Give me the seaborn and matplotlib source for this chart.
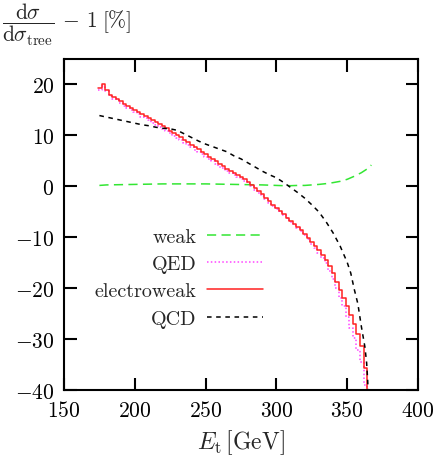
import numpy as np
import pandas as pd
import seaborn as sns
import matplotlib
matplotlib.use("Agg")
import matplotlib.pyplot as plt
from matplotlib.ticker import FuncFormatter

sns.set_theme(style="ticks")
plt.rcParams["font.family"] = ["serif"]
plt.rcParams["font.serif"] = ["cmr10", "DejaVu Serif"]
plt.rcParams["mathtext.fontset"] = "cm"
plt.rcParams["axes.formatter.use_mathtext"] = True

# electroweak / QED: histogram bins of 2.5 GeV starting at 174 GeV
bin_start = 174.0
bin_width = 2.5
ew = [19.3, 20.0, 19.0, 18.0, 17.5, 17.2, 16.8, 16.2, 15.7, 15.3,
      14.9, 14.6, 14.2, 13.9, 13.5, 13.0, 12.6, 12.2, 11.8, 11.4,
      10.9, 10.4, 10.0, 9.6, 9.1, 8.7, 8.2, 7.7, 7.3, 6.8,
      6.3, 5.8, 5.4, 4.9, 4.4, 4.0, 3.5, 3.1, 2.7, 2.2,
      1.8, 1.4, 0.9, 0.3, -0.3, -0.9, -1.5, -2.2, -2.9, -3.6,
      -4.2, -4.9, -5.5, -6.1, -6.8, -7.4, -8.0, -8.6, -9.4, -10.1,
      -10.9, -11.7, -12.5, -13.4, -14.4, -15.6, -17.0, -18.8, -20.3, -21.8,
      -23.5, -25.3, -27.0, -29.0, -31.3, -35.5, -60.0]
qed = [18.9, 19.6, 18.7, 17.7, 17.2, 16.9, 16.4, 15.8, 15.3, 14.9,
       14.5, 14.2, 13.7, 13.4, 13.0, 12.5, 12.1, 11.7, 11.3, 10.9,
       10.4, 9.9, 9.5, 9.1, 8.6, 8.2, 7.7, 7.2, 6.8, 6.3,
       5.8, 5.3, 4.9, 4.4, 3.9, 3.6, 3.1, 2.7, 2.3, 1.8,
       1.4, 1.0, 0.6, 0.0, -0.6, -1.2, -1.8, -2.5, -3.2, -3.8,
       -4.4, -5.1, -5.6, -6.2, -6.9, -7.5, -8.2, -8.8, -9.6, -10.4,
       -11.2, -12.1, -13.0, -14.0, -15.1, -16.5, -18.1, -20.0, -21.8, -23.5,
       -25.6, -27.7, -29.8, -32.0, -34.5, -39.0, -60.0]

# weak
weak_e = [175, 180, 190, 200, 210, 220, 230, 240, 250, 260, 270, 280, 290,
          300, 305, 310, 315, 320, 325, 330, 335, 340, 345, 350, 355, 360,
          365, 367]
weak_v = [0.2, 0.3, 0.35, 0.4, 0.45, 0.5, 0.5, 0.5, 0.5, 0.45, 0.4, 0.35,
          0.3, 0.2, 0.15, 0.15, 0.2, 0.2, 0.3, 0.4, 0.55, 0.75, 1.0, 1.4,
          2.0, 2.7, 3.6, 4.2]

# QCD
qcd_e = [175, 180, 185, 190, 195, 200, 205, 210, 215, 220, 225, 230, 235,
         240, 245, 250, 255, 260, 265, 270, 275, 280, 285, 290, 295, 300,
         305, 310, 315, 320, 325, 330, 335, 340, 345, 350, 352.5, 355, 357.5,
         360, 362.5, 363.7, 364.4, 365]
qcd_v = [13.9, 13.6, 13.3, 13.0, 12.7, 12.4, 12.1, 11.9, 11.6, 11.4, 11.3,
         11.0, 10.3, 9.6, 8.9, 8.3, 7.8, 7.3, 6.8, 6.0, 5.4, 4.6, 3.8, 3.0,
         2.3, 1.7, 0.8, -0.2, -1.2, -2.3, -3.6, -5.0, -6.9, -9.1, -11.7,
         -14.9, -17.0, -20.2, -23.0, -27.5, -31.5, -34.6, -37.8, -41.5]

edges = bin_start + bin_width * np.arange(len(ew))
df_ew = pd.DataFrame({"E": edges, "v": ew})
df_qed = pd.DataFrame({"E": edges, "v": qed})
df_weak = pd.DataFrame({"E": weak_e, "v": weak_v})
df_qcd = pd.DataFrame({"E": qcd_e, "v": qcd_v})

fig = plt.figure(figsize=(4.36, 4.60), dpi=100)
ax = fig.add_axes([0.1468, 0.149, 0.812, 0.7207])

lw = 1.1
sns.lineplot(data=df_weak, x="E", y="v", ax=ax, color="#33e633", lw=lw,
             linestyle=(0, (6, 3.5)), label="weak")
sns.lineplot(data=df_qed, x="E", y="v", ax=ax, color="#ff44ff", lw=lw,
             linestyle=(0, (1, 1.5)), drawstyle="steps-post", label="QED")
sns.lineplot(data=df_ew, x="E", y="v", ax=ax, color="#ff2020", lw=lw,
             drawstyle="steps-post", label="electroweak")
sns.lineplot(data=df_qcd, x="E", y="v", ax=ax, color="black", lw=lw,
             linestyle=(0, (3, 3)), label="QCD")

ax.set_xlim(150, 400)
ax.set_ylim(-40, 25)
ax.set_xticks([150, 200, 250, 300, 350, 400])
ax.set_yticks([-40, -30, -20, -10, 0, 10, 20])
fmt = FuncFormatter(lambda v, p: f"${v:g}$")
ax.xaxis.set_major_formatter(fmt)
ax.yaxis.set_major_formatter(fmt)
ax.tick_params(direction="in", length=9, width=1.5, labelsize=15.5,
               top=True, right=True, pad=7, colors="black")
for s in ax.spines.values():
    s.set_linewidth(1.5)
    s.set_color("black")
ax.set_xlabel(r"$E_\mathrm{t}\,[\mathrm{GeV}]$", fontsize=17, labelpad=5)
ax.set_ylabel("")

fig.text(0.005, 0.997,
         r"$\dfrac{\mathrm{d}\sigma}{\mathrm{d}\sigma_\mathrm{tree}}\,-\,1\;[\%]$",
         fontsize=15.5, va="top", ha="left")

ax.legend(loc="upper right", bbox_to_anchor=(0.603, 0.502),
          bbox_transform=fig.transFigure, frameon=False, markerfirst=False,
          fontsize=14.5, handlelength=2.8, handletextpad=0.5, labelspacing=0.45,
          borderpad=0, borderaxespad=0)

fig.savefig("out.png", dpi=100)
